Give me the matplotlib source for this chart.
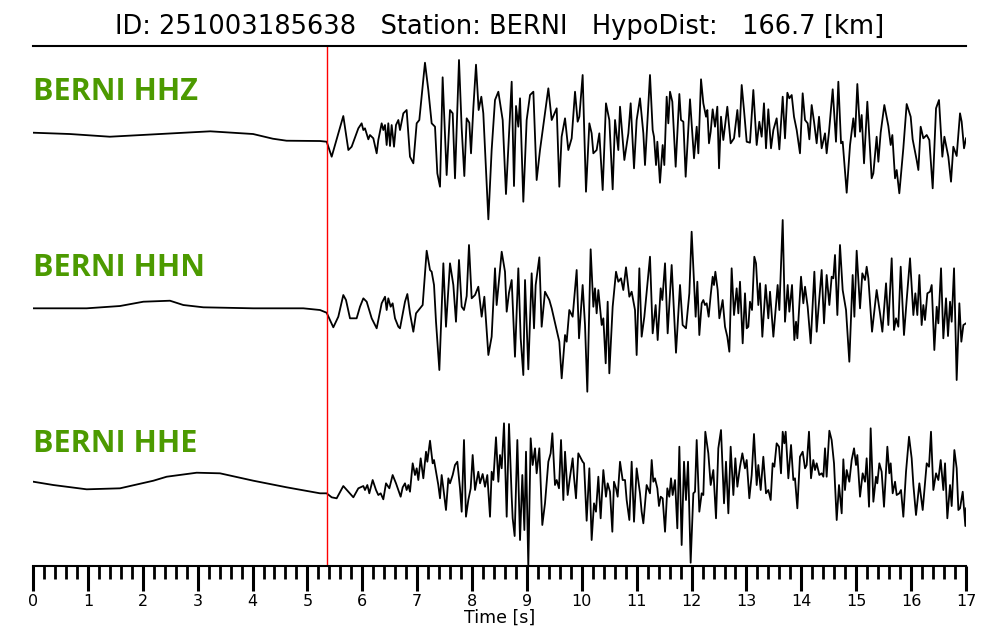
import numpy as np
import matplotlib
matplotlib.use("Agg")
import matplotlib.pyplot as plt
from matplotlib.ticker import MultipleLocator

event_id = "251003185638"
station = "BERNI"
hypo_dist = 166.7
p_pick = 5.357  # s
channels = ["HHZ", "HHN", "HHE"]

# peak / trough readings of each trace: time [s] and amplitude [counts, arbitrary]
hhz_t = [0.006, 0.67, 1.40, 2.31, 3.23, 4.01, 4.37, 4.62, 5.23, 5.351,
         5.442, 5.654, 5.746, 5.806, 5.928, 5.988, 6.019, 6.049, 6.110, 6.140,
         6.201, 6.262, 6.292, 6.353, 6.383, 6.414, 6.444, 6.474, 6.505, 6.535,
         6.578, 6.614, 6.657, 6.687, 6.748, 6.808, 6.869, 6.930, 6.991, 7.039,
         7.142, 7.203, 7.264, 7.325, 7.367, 7.416, 7.464, 7.537, 7.598, 7.647,
         7.689, 7.762, 7.811, 7.859, 7.902, 7.950, 7.981, 8.023, 8.072, 8.120,
         8.169, 8.205, 8.297, 8.357, 8.418, 8.479, 8.558, 8.618, 8.722, 8.764,
         8.801, 8.843, 8.874, 8.934, 8.995, 9.056, 9.117, 9.177, 9.238, 9.390,
         9.451, 9.542, 9.590, 9.632, 9.694, 9.754, 9.815, 9.876, 9.924, 9.955,
         10.015, 10.076, 10.137, 10.179, 10.210, 10.270, 10.319, 10.380, 10.440, 10.501,
         10.562, 10.605, 10.665, 10.696, 10.775, 10.848, 10.890, 10.951, 10.999, 11.060,
         11.121, 11.151, 11.242, 11.291, 11.315, 11.352, 11.376, 11.424, 11.473, 11.503,
         11.546, 11.576, 11.607, 11.649, 11.710, 11.777, 11.807, 11.850, 11.892, 11.971,
         12.044, 12.093, 12.123, 12.172, 12.214, 12.263, 12.287, 12.317, 12.348, 12.384,
         12.427, 12.469, 12.500, 12.536, 12.578, 12.651, 12.712, 12.773, 12.834, 12.870,
         12.913, 12.955, 13.004, 13.064, 13.125, 13.186, 13.234, 13.277, 13.319, 13.356,
         13.398, 13.447, 13.490, 13.550, 13.599, 13.660, 13.702, 13.745, 13.781, 13.824,
         13.866, 13.915, 13.975, 14.024, 14.067, 14.115, 14.146, 14.188, 14.231, 14.279,
         14.322, 14.370, 14.431, 14.461, 14.504, 14.571, 14.631, 14.674, 14.723, 14.753,
         14.826, 14.887, 14.947, 14.978, 15.020, 15.069, 15.099, 15.142, 15.202, 15.281,
         15.312, 15.372, 15.403, 15.445, 15.512, 15.585, 15.628, 15.658, 15.707, 15.737,
         15.785, 15.858, 15.919, 15.992, 16.028, 16.101, 16.132, 16.174, 16.223, 16.284,
         16.332, 16.393, 16.454, 16.508, 16.569, 16.606, 16.678, 16.727, 16.769, 16.830,
         16.891, 16.921, 16.964, 17.0]
hhz_a = [-0.7, -2, -4.7, -2, 0.7, -2, -6.7, -8.7, -9, -9.7,
         -24.7, 16, -18, -14.7, 3.7, 8.7, 2, 3.7, -7.3, -3,
         -6.3, -21.3, -8, 8.7, 2, 7, -13, 8.7, -14, 7,
         -14.7, 7, 12, 2, 18.7, 22, -24.7, -31.3, 8.7, 12,
         69.3, 42, 8.7, 5.3, -41.3, -54.7, 54.7, -43, 22, 18.7,
         -46.3, 72, 3.7, -44, 13.7, 9.3, -21.3, 23.7, 67.3, 22,
         35.3, 18.7, -87.3, -18, 32, 40.3, 12, -62, 50.3, -54,
         26, 5.3, 33.7, -69.7, 12, 37, 40.3, -48, -18, 43.7,
         12, 23.7, -54.7, -4.7, 13.7, -18, -6.3, 40.3, 10.3, 15.3,
         57, -59.7, 8.7, -1.3, -21.3, -18, -1.3, -58, 28.7, 12,
         -57.3, 12, -18, 25.3, -28, -1.3, 28.7, -36.3, 12, 33.7,
         -1.3, -33, 57, 2, -4.7, -33, -9.7, -50.7, -13, -33,
         35.3, 8.7, 40.3, 30.3, -34.7, 38, 12, 10.3, -44.7, 32.7,
         -26.3, 5.3, -21.3, 52.7, 28.7, 15.3, 22, -11.3, 0.3, 22.7,
         5.3, 25.3, -36.3, 15.3, -8, 25.3, -11.3, -6.3, 22, -4.7,
         47, 22, -9.7, -10.7, 42, -13, 10.3, -4.7, 28.7, -16.3,
         22.7, -16.3, 2, 13.7, -17.3, 35.3, -6.3, 39.3, 33.7, 37,
         15.3, 2, -21.3, 38.7, 12, 8.7, -7.3, 27, 10.3, -11.3,
         15.3, -16.3, -1.3, -21.3, 0.3, 42.7, -9.7, 50.3, -11.3, -9.7,
         -60.7, -13, 13.7, -4.7, 48, 0.3, 17, -31.3, 30.3, -46.3,
         -41.3, -4.7, -29.7, -0.7, 27, 6, -13, -3, -46.3, -38,
         -61.3, -16.3, 28, 15.3, -7.3, -28, -38, 5.3, -6.3, -3,
         -8, -56.3, 23.7, 32, -24.7, -4.7, -24.7, -49.7, -14.7, -24,
         18.7, 10.3, -16.3, -6.3]

hhn_t = [0.006, 0.978, 1.585, 2.01, 2.496, 2.739, 3.104, 4.015, 4.926, 5.23,
         5.35, 5.472, 5.563, 5.654, 5.703, 5.776, 5.897, 5.958, 6.019, 6.080,
         6.171, 6.262, 6.353, 6.414, 6.444, 6.474, 6.517, 6.553, 6.596, 6.657,
         6.687, 6.778, 6.821, 6.869, 6.930, 6.979, 7.051, 7.100, 7.173, 7.234,
         7.264, 7.307, 7.343, 7.404, 7.477, 7.525, 7.598, 7.659, 7.707, 7.762,
         7.811, 7.853, 7.902, 7.944, 7.993, 8.054, 8.114, 8.175, 8.224, 8.297,
         8.357, 8.418, 8.448, 8.540, 8.600, 8.631, 8.673, 8.722, 8.782, 8.843,
         8.886, 8.934, 8.965, 9.025, 9.086, 9.129, 9.159, 9.226, 9.268, 9.329,
         9.408, 9.451, 9.590, 9.633, 9.694, 9.724, 9.772, 9.833, 9.906, 9.949,
         10.015, 10.058, 10.100, 10.161, 10.210, 10.240, 10.270, 10.301, 10.362, 10.392,
         10.435, 10.471, 10.501, 10.562, 10.623, 10.665, 10.714, 10.756, 10.805, 10.866,
         10.908, 10.969, 10.999, 11.048, 11.090, 11.139, 11.242, 11.291, 11.345, 11.382,
         11.437, 11.467, 11.516, 11.564, 11.637, 11.716, 11.789, 11.837, 11.898, 11.959,
         12.001, 12.074, 12.105, 12.141, 12.184, 12.214, 12.244, 12.275, 12.311, 12.348,
         12.384, 12.408, 12.433, 12.475, 12.506, 12.566, 12.609, 12.651, 12.688, 12.730,
         12.773, 12.821, 12.852, 12.882, 12.931, 12.973, 13.004, 13.034, 13.064, 13.101,
         13.143, 13.174, 13.216, 13.247, 13.289, 13.350, 13.398, 13.429, 13.490, 13.568,
         13.599, 13.660, 13.702, 13.751, 13.781, 13.830, 13.872, 13.903, 13.927, 13.994,
         14.036, 14.067, 14.115, 14.170, 14.237, 14.279, 14.310, 14.370, 14.413, 14.461,
         14.510, 14.552, 14.583, 14.613, 14.656, 14.704, 14.753, 14.814, 14.874, 14.935,
         14.966, 15.008, 15.069, 15.111, 15.160, 15.190, 15.221, 15.288, 15.372, 15.433,
         15.476, 15.543, 15.585, 15.646, 15.688, 15.725, 15.767, 15.810, 15.870, 15.919,
         15.980, 16.041, 16.077, 16.113, 16.150, 16.192, 16.223, 16.253, 16.296, 16.344,
         16.375, 16.423, 16.466, 16.496, 16.545, 16.587, 16.636, 16.672, 16.709, 16.739,
         16.782, 16.830, 16.879, 16.915, 16.952, 17.0]
hhn_a = [-0.3, -0.3, 2, 6.3, 7.3, 3, 0.7, -0.3, -0.3, -2,
         -4.7, -19.3, -8.7, 13, 8, -10.3, -10.3, 1.3, 9.7, 6.3,
         -10.3, -20.3, 4.7, 11.3, -2, 9.7, 1.3, 4.7, -10.3, -18.7,
         -20.3, 6.3, 14, -5.3, -23.7, -5.3, -0.3, 3, 57.3, 38,
         36.3, 23, -13.7, -62, 44.7, -18.7, 44.7, 23, -13.7, 48,
         1.3, -2, 12, 63, 9.7, 13, 21.3, -8.7, 11.3, -47,
         -28.7, 39.7, 3, 56.3, 36.3, -3.7, 15.3, 28, -48.7, 39.7,
         -30.3, -67, 28, -61.3, 34.7, -20.3, 23, 50.7, -18.7, 16.3,
         8, -0.3, -33.7, -70.3, -27, -33.7, -2, -8.7, 38, -30.3,
         23, -17, -83.7, 58.7, 1.3, 19.7, -5.3, 18, -17, -10.3,
         -55.3, 6.3, -65.3, 1.3, 36.3, 26.3, 29.7, 18, 40.7, 11.3,
         16.3, -2, -47, 39.7, -28.7, -8.7, 51.3, -25.3, 3, -32,
         19.7, 8, 44.7, -25.3, 43, -44.7, 23, -17, -20.3, 14.7,
         76.3, -8.7, 26.3, -27, 4.7, 8, 3, 4.7, -8.7, 13,
         31.3, 23, 36.3, 18, -10.3, 8, -18.7, -28.7, -43.7, 39.7,
         -7, 19.7, -5.3, 26.3, -35.3, 14.7, -20.3, -18.7, 6.3, -2,
         51.3, 44.7, 3, 24.7, -28.7, 23, -10.3, 16.3, -28.7, 23,
         -2, 88, -13.7, 23, -3.7, 23, -32, -13.7, -30.3, 31.3,
         4.7, 21.3, 1.3, -35.3, 36.3, -23.7, -2, 38, -15.3, 33,
         3, 31.3, 29.7, 53, -7, 63, 18, -2, -53.7, 33,
         -8.7, 57.3, -0.3, 34.7, 28, 41.3, 29.7, -23.7, 18, -5.3,
         -23.7, 24.7, -17, 49.7, -22, -10.3, -18.7, 41.3, -27, 8,
         49.7, -7, 14.7, -7, 33, -17, 3, -12, 14.7, 16.3,
         23, -42, 1.3, -15.3, 39.7, -30.3, 9.7, -28, 6.3, -13.7,
         39.7, -72, 4.7, -33.7, -17, -15.3]

hhe_t = [0.006, 0.37, 0.978, 1.585, 2.193, 2.436, 2.982, 3.407, 4.015, 4.622,
         5.23, 5.351, 5.442, 5.533, 5.654, 5.746, 5.837, 5.928, 6.019, 6.049,
         6.092, 6.128, 6.189, 6.250, 6.292, 6.335, 6.383, 6.432, 6.493, 6.553,
         6.614, 6.657, 6.699, 6.736, 6.778, 6.808, 6.839, 6.869, 6.918, 6.960,
         6.991, 7.021, 7.064, 7.112, 7.161, 7.185, 7.234, 7.282, 7.307, 7.355,
         7.385, 7.416, 7.446, 7.477, 7.525, 7.568, 7.598, 7.647, 7.689, 7.732,
         7.780, 7.811, 7.853, 7.889, 7.932, 7.975, 8.011, 8.054, 8.114, 8.145,
         8.193, 8.236, 8.278, 8.327, 8.357, 8.388, 8.436, 8.479, 8.509, 8.540,
         8.582, 8.631, 8.673, 8.722, 8.740, 8.776, 8.825, 8.874, 8.916, 8.953,
         8.983, 9.025, 9.068, 9.104, 9.147, 9.177, 9.226, 9.280, 9.329, 9.390,
         9.432, 9.463, 9.511, 9.542, 9.584, 9.621, 9.663, 9.694, 9.742, 9.785,
         9.833, 9.857, 9.894, 9.936, 10.015, 10.040, 10.088, 10.137, 10.179, 10.222,
         10.258, 10.301, 10.343, 10.392, 10.440, 10.471, 10.513, 10.556, 10.586, 10.623,
         10.653, 10.696, 10.744, 10.787, 10.817, 10.866, 10.908, 10.951, 10.999, 11.060,
         11.090, 11.121, 11.181, 11.242, 11.273, 11.303, 11.333, 11.376, 11.406, 11.437,
         11.473, 11.516, 11.558, 11.594, 11.625, 11.655, 11.698, 11.740, 11.777, 11.819,
         11.862, 11.898, 11.935, 11.983, 12.032, 12.062, 12.093, 12.141, 12.184, 12.214,
         12.250, 12.305, 12.348, 12.396, 12.445, 12.487, 12.536, 12.591, 12.627, 12.670,
         12.712, 12.761, 12.797, 12.834, 12.882, 12.925, 12.973, 13.004, 13.052, 13.095,
         13.137, 13.186, 13.216, 13.259, 13.307, 13.356, 13.398, 13.441, 13.477, 13.508,
         13.550, 13.593, 13.629, 13.660, 13.690, 13.714, 13.763, 13.812, 13.854, 13.884,
         13.927, 13.975, 14.024, 14.067, 14.097, 14.139, 14.176, 14.218, 14.249, 14.279,
         14.328, 14.370, 14.401, 14.431, 14.461, 14.510, 14.552, 14.595, 14.644, 14.686,
         14.735, 14.765, 14.795, 14.826, 14.874, 14.917, 14.960, 14.996, 15.020, 15.069,
         15.117, 15.160, 15.190, 15.233, 15.263, 15.312, 15.360, 15.384, 15.421, 15.463,
         15.506, 15.567, 15.603, 15.628, 15.664, 15.707, 15.737, 15.785, 15.816, 15.858,
         15.907, 15.962, 16.010, 16.041, 16.089, 16.150, 16.211, 16.284, 16.326, 16.362,
         16.405, 16.454, 16.496, 16.539, 16.587, 16.618, 16.660, 16.709, 16.739, 16.788,
         16.830, 16.861, 16.891, 16.940, 16.988, 17.0]
hhe_a = [2.3, -1, -5.3, -4.3, 3.3, 7.3, 11.3, 10.7, 3.3, -3.3,
         -9.3, -9.3, -13.3, -14.3, -2, -7.7, -13.3, -4.3, -2, -6,
         -1, -9.3, 4, -6, -11, -9.3, -15.3, 0.7, -4.3, 9,
         0.7, -6, -12.7, -3.3, 0.7, -6, -1, -7.7, 20.7, 9,
         15.7, 4, 25.7, 5.7, 32.3, 22.3, 43.3, 20.7, 24, 9,
         -1, -14.3, 9, -4.3, -26, 5.7, 0.7, 9, 19, 22.3,
         -4.3, -27.7, 44, -32.7, -16, -4.3, 29, -6, 12.3, 0.7,
         10, -2.7, 9, -32.7, 12.3, 4, 46.7, 2.3, 29, 15.7,
         60.7, -32.7, 60, -12.7, -34.3, -52, 44, -56, 9, -46,
         32.3, -82.7, 45.7, 19, 35.7, 10.7, 35.7, -41, -19.3, 22.3,
         30.7, 50.7, -1, 4, -4.3, 44, -16, 32.3, -11, 7.3,
         25.7, 7.3, -14.3, 30.7, 22.3, 20.7, -36.7, 15.7, -56, -19.3,
         -27.7, 7.3, -34.3, 14, -12.7, 0.7, -7.7, -47.7, 2.3, -4.3,
         -12.7, 22.3, 4, 4, -16, -36, 22.3, -37.7, 15.7, -9.3,
         -27.7, -39.3, -1, -9.3, 24, 2.3, 5.7, -4.3, -22, -12.7,
         -14.3, -47.7, -4.3, -12.7, 5.7, -11, 4, -44.3, 37.3, -61,
         22.3, -16, 22.3, -78.7, -9.3, -7.7, 44, -27.7, -9.3, -11,
         52.3, 30.7, -1, 14, -34.3, 35.7, 54, -19.3, 22.3, -29.3,
         37.3, -11, 25.7, -2.7, 17.3, 30.7, 15.7, 24, -14.3, 9,
         50, -1, 19, -6, 27.3, -9.3, -6, -16, 20.7, 17.3,
         40.7, 37.3, 10.7, 52.3, 40.7, 52.3, 5.7, 39, 4, 5.7,
         -24.3, 27.3, 32.3, 15.7, 19, 52.3, 5.7, 24, 14, 20.7,
         9, 10.7, 7.3, 35.7, 7.3, 53.3, 44, 20.7, -36, -1,
         -29.3, 24.7, -6, 14, 2.3, 24, 35.7, 19, 29, -12.7,
         10.7, 2.3, 25.7, -22.7, 55.7, -17.7, 7.3, 0.7, 20.7, 12.3,
         -22.7, 37.3, 10.7, 20.7, -9.3, 2.3, -11, -9.3, -6, -32.7,
         12.3, 47.3, 25.7, -1, -31, 0.7, -26, 20.7, 17.3, 52.3,
         -6, 10.7, 4, 24, -6, 20.7, -34.3, -1, -22, 34,
         15.7, -26, -24.3, -7.7, -42, -24.3]

traces = [(hhz_t, hhz_a), (hhn_t, hhn_a), (hhe_t, hhe_a)]
spacing = 176  # vertical gap between traces (same units as amplitude)

fig = plt.figure(figsize=(10, 6.4), dpi=100)
ax = fig.add_axes([0.033, 0.1156, 0.933, 0.8125])

green = "#4c9a00"
for i, (ch, (t, a)) in enumerate(zip(channels, traces)):
    off = -i * spacing
    ax.plot(t, np.array(a) + off, color="black", lw=1.3)
    ax.text(0.0, off + 40, f"{station} {ch}", color=green, fontsize=22,
            fontweight="bold", family="Open Sans", va="center", ha="left")

ax.axvline(p_pick, color="red", lw=1)

ax.set_xlim(0, 17)
ax.set_ylim(-434, 86)
ax.set_yticks([])
for s in ["left", "right"]:
    ax.spines[s].set_visible(False)
ax.spines["top"].set_linewidth(1.5)
ax.spines["bottom"].set_linewidth(1.5)

ax.xaxis.set_major_locator(MultipleLocator(1))
ax.xaxis.set_minor_locator(MultipleLocator(0.2))
ax.tick_params(axis="x", which="major", length=18, width=2.2, pad=2, labelsize=11.5)
ax.tick_params(axis="x", which="minor", length=9, width=2)
ax.set_xlabel("Time [s]", fontsize=12.5, labelpad=0)

fig.text(0.5, 1 - 27 / 640,
         f"ID: {event_id}   Station: {station}   HypoDist:   {hypo_dist} [km]",
         ha="center", va="center", fontsize=18.5)

fig.savefig("out.png", dpi=100)
